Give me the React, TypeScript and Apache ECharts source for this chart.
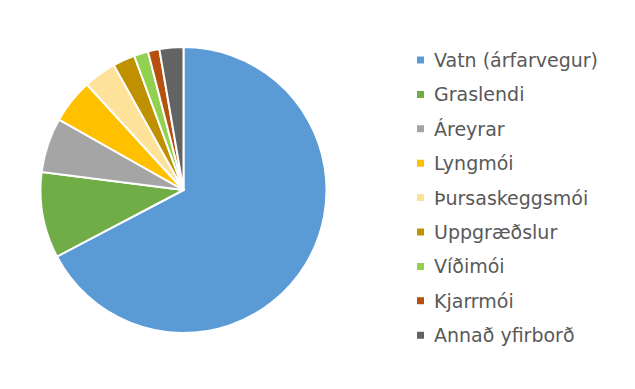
import React, { useEffect, useRef } from "react";
import * as echarts from "echarts";

const categories = [
  "Vatn (árfarvegur)",
  "Graslendi",
  "Áreyrar",
  "Lyngmói",
  "Þursaskeggsmói",
  "Uppgræðslur",
  "Víðimói",
  "Kjarrmói",
  "Annað yfirborð",
];
const values = [67.3, 9.7, 6.2, 5.0, 3.7, 2.5, 1.6, 1.3, 2.7];
const colors = [
  "#5B9BD5",
  "#70AD47",
  "#A5A5A5",
  "#FFC000",
  "#FFE29A",
  "#BF9000",
  "#92D050",
  "#B5500F",
  "#636363",
];

export default function App() {
  const ref = useRef<HTMLDivElement>(null);
  useEffect(() => {
    if (!ref.current) return;
    const chart = echarts.init(ref.current, undefined, { renderer: "svg" });
    chart.setOption({
      animation: false,
      color: colors,
      legend: {
        orient: "vertical",
        left: 415 - 8,
        top: 50 - 8,
        padding: 0,
        itemWidth: 9,
        itemHeight: 9,
        itemGap: 14.4,
        icon: "rect",
        data: categories,
        textStyle: {
          fontFamily: "DejaVu Sans",
          fontSize: 19,
          color: "#595959",
          lineHeight: 20,
          padding: [0, 0, 0, 4],
        },
      },
      series: [
        {
          type: "pie",
          center: [183.5 - 8, 190 - 8],
          radius: 143,
          startAngle: 90,
          clockwise: true,
          label: { show: false },
          labelLine: { show: false },
          itemStyle: { borderColor: "#ffffff", borderWidth: 2 },
          emphasis: { disabled: true },
          data: categories.map((name, i) => ({ name, value: values[i] })),
        },
      ],
    });
    return () => chart.dispose();
  }, []);
  return <div ref={ref} style={{ width: 635, height: 389 }} />;
}
